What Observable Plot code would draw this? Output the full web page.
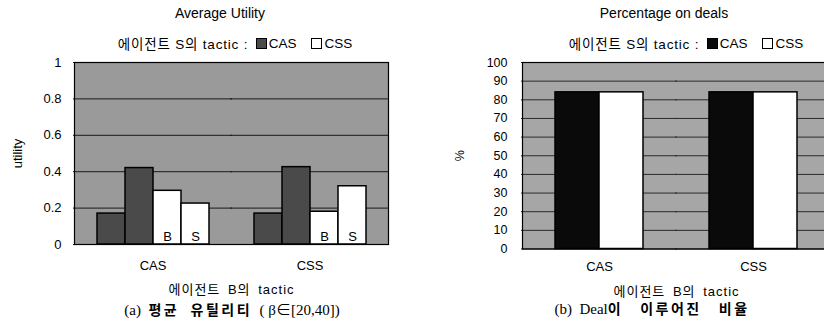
<!DOCTYPE html>
<html><head><meta charset="utf-8">
<script src="https://cdn.jsdelivr.net/npm/d3@7"></script>
<script src="https://cdn.jsdelivr.net/npm/@observablehq/plot@0.6"></script>
<style>
body{margin:0;background:#fff;}
#wrap{position:relative;width:824px;height:327px;overflow:hidden;background:#fff;font-family:"Liberation Sans","Noto Sans CJK KR",sans-serif;color:#000;}
.abs{position:absolute;white-space:nowrap;}
.title{font-size:14px;text-align:center;width:400px;line-height:16px;}
.legend{font-size:13.5px;display:flex;align-items:center;justify-content:center;width:400px;height:16px;}
.legend .k{letter-spacing:0.8px;}
.sw{display:inline-block;width:11px;height:11px;border:1.5px solid #000;box-sizing:border-box;margin-right:2px;}
.cap{font-family:"Liberation Serif","Noto Sans CJK KR",serif;font-size:15px;text-align:center;width:400px;line-height:18px;}
.cap b{font-family:"Noto Sans CJK KR",sans-serif;font-weight:700;font-size:14px;letter-spacing:2.5px;}
.plot{position:absolute;top:50px;}
.plot svg{max-width:none !important;}
.plot svg g[aria-label="fx-axis label"] text{letter-spacing:1px;word-spacing:3px;}
</style></head>
<body><div id="wrap">
<div class="abs title" style="left:20px;top:5px;">Average Utility</div>
<div class="abs legend" style="left:35px;top:35px;"><span class="k">에이전트 S의 tactic :</span>&nbsp;&nbsp;<span class="sw" style="background:#4a4a4a"></span>CAS&nbsp;&nbsp;&nbsp;&nbsp;<span class="sw" style="background:#fff"></span>CSS</div>
<div class="abs title" style="left:464px;top:5px;">Percentage on deals</div>
<div class="abs legend" style="left:486px;top:35px;"><span class="k">에이전트 S의 tactic :</span>&nbsp;&nbsp;<span class="sw" style="background:#0a0a0a"></span>CAS&nbsp;&nbsp;&nbsp;&nbsp;<span class="sw" style="background:#fff"></span>CSS</div>
<div class="abs cap" style="left:32px;top:300px;">(a) &nbsp;<b>평균 &nbsp;유틸리티</b> &nbsp;( β∈[20,40])</div>
<div class="abs cap" style="left:452px;top:299px;">(b) &nbsp;Deal<b>이 &nbsp;&nbsp;이루어진 &nbsp;&nbsp;비율</b></div>
<div id="left" class="plot" style="left:0px;width:412px;"></div>
<div id="right" class="plot" style="left:412px;width:420px;"></div>
</div>
<script>
// categories
const agentBTactics = ["CAS", "CSS"];   // x groups (에이전트 B의 tactic)
const agentSTactics = ["CAS", "CSS"];   // series (에이전트 S의 tactic)
const roles = ["B", "S"];               // whose utility
// Average utility: order = S:CAS(B,S), S:CSS(B,S)
const utilityWhenBcas = [0.17, 0.42, 0.295, 0.225];
const utilityWhenBcss = [0.17, 0.425, 0.18, 0.32];
// Percentage on deals: order = S:CAS, S:CSS
const dealsWhenBcas = [84, 84];
const dealsWhenBcss = [84, 84];
// tick labels
const utilityTicks = [0, 0.2, 0.4, 0.6, 0.8, 1];
const dealTicks = [0, 10, 20, 30, 40, 50, 60, 70, 80, 90, 100];

const utilityRows = [];
[utilityWhenBcas, utilityWhenBcss].forEach((vals, i) => {
  let k = 0;
  agentSTactics.forEach(s => roles.forEach(r => {
    utilityRows.push({b: agentBTactics[i], s, role: r, key: s + "-" + r, value: vals[k++]});
  }));
});
const dealRows = [];
[dealsWhenBcas, dealsWhenBcss].forEach((vals, i) => {
  agentSTactics.forEach((s, j) => dealRows.push({b: agentBTactics[i], s, value: vals[j]}));
});
const utilKeys = agentSTactics.flatMap(s => roles.map(r => s + "-" + r));

const font = '"Liberation Sans","Noto Sans CJK KR",sans-serif';

const left = Plot.plot({
  width: 412, height: 250,
  marginTop: 12, marginBottom: 56, marginLeft: 73, marginRight: 24,
  style: {fontFamily: font, fontSize: "13px", background: "transparent", color: "#000"},
  fx: {domain: agentBTactics, padding: 0},
  x: {domain: utilKeys, paddingInner: 0, paddingOuter: 0.74, axis: null},
  y: {domain: [0, 1], ticks: utilityTicks, tickFormat: d => String(d), label: "utility", labelArrow: "none",
      labelAnchor: "center", labelOffset: 62, tickSize: 0, tickPadding: 13},
  color: {domain: agentSTactics, range: ["#4a4a4a", "#ffffff"]},
  marks: [
    Plot.frame({facet: "super", fill: "#9a9a9a"}),
    Plot.ruleY(utilityTicks, {stroke: "#1a1a1a", strokeWidth: 1, insetLeft: -1, insetRight: -1}),
    Plot.barY(utilityRows, {fx: "b", x: "key", y: "value", fill: "s", stroke: "#000", strokeWidth: 1.5}),
    Plot.text(utilityRows.filter(d => d.s === "CSS"), {fx: "b", x: "key", y: 0, text: "role", dy: -8, fontSize: 13}),
    Plot.frame({facet: "super", stroke: "#000", strokeWidth: 1.2}),
    Plot.axisFx({anchor: "bottom", tickSize: 0, tickPadding: 16, label: "에이전트 B의 tactic",
      labelAnchor: "center", labelOffset: 49, fontSize: 13})
  ]
});
document.getElementById("left").append(left);

const right = Plot.plot({
  width: 420, height: 250,
  marginTop: 12, marginBottom: 51.5, marginLeft: 110, marginRight: 2,
  style: {fontFamily: font, fontSize: "12.5px", background: "transparent", color: "#000"},
  fx: {domain: agentBTactics, padding: 0},
  x: {domain: agentSTactics, paddingInner: 0, paddingOuter: 0.714, axis: null},
  y: {domain: [0, 100], ticks: dealTicks, label: "%", labelArrow: "none", labelAnchor: "center", labelOffset: 67,
      tickSize: 0, tickPadding: 15},
  color: {domain: agentSTactics, range: ["#0a0a0a", "#ffffff"]},
  marks: [
    Plot.frame({facet: "super", fill: "#a6a6a6"}),
    Plot.ruleY(dealTicks, {stroke: "#2a2a2a", strokeWidth: 1, insetLeft: -1, insetRight: -1}),
    Plot.barY(dealRows, {fx: "b", x: "s", y: "value", fill: "s", stroke: "#000", strokeWidth: 1.5}),
    Plot.frame({facet: "super", stroke: "#000", strokeWidth: 1.2}),
    Plot.axisFx({anchor: "bottom", tickSize: 0, tickPadding: 13, label: "에이전트 B의 tactic",
      labelAnchor: "center", labelOffset: 46.5, fontSize: 13})
  ]
});
document.getElementById("right").append(right);
</script>
</body></html>
